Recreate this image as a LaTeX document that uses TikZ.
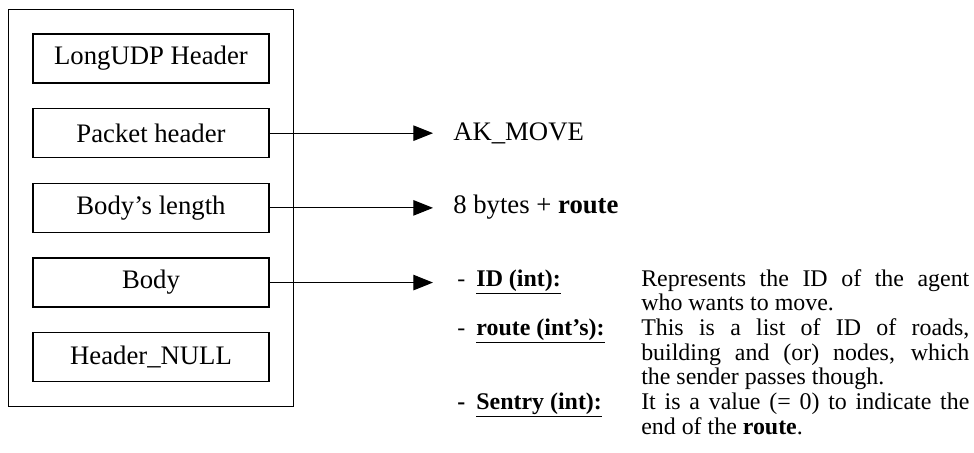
\documentclass[tikz,border=0pt]{standalone}
\usepackage{fontspec}
\setmainfont{Liberation Serif}
\usetikzlibrary{positioning,fit,arrows.meta}

\tikzset{
  field/.style={draw,line width=0.9pt,minimum width=5.9cm,minimum height=1.225cm,
    inner sep=0pt,font=\fontsize{19}{23}\selectfont},
  arr/.style={-{Triangle[length=14pt,width=11pt]},line width=0.8pt},
  val/.style={inner ysep=0pt,inner xsep=0.5cm,font=\fontsize{19}{23}\selectfont},
  item/.style={inner ysep=0pt,inner xsep=0.6cm,text height=12pt,text depth=4.5pt,
    font=\fontsize{17}{17.6}\selectfont},
  desc/.style={inner sep=0pt,text width=8.2cm,align=justify,
    font=\fontsize{17}{17.6}\selectfont}
}

\begin{document}
\begin{tikzpicture}[x=0.025cm,y=-0.025cm,node distance=0.61cm]
    \useasboundingbox (0,0) rectangle (974,453);
    % the packet
    \node[field] (hdr) at (151,58.5)  {LongUDP Header};
    \node[field] (pkt) [below=of hdr] {Packet header};
    \node[field] (len) [below=of pkt] {Body's length};
    \node[field] (body) [below=of len] {Body};
    \node[field] (nul) [below=of body] {Header\_NULL};
    \node[draw,line width=0.9pt,fit=(hdr)(nul),inner sep=0.6cm] (pack) {};
    % values
    \node[val,anchor=west] (ak) at (433,133) {AK\_MOVE};
    \node[val,anchor=west] (size) at (433,207) {8 bytes + \textbf{route}};
    % body fields
    \node[item,anchor=base west] (id) at (433,286)
      {-\hspace{0.28cm}\underline{\textbf{ID (int):}}};
    \node[item,anchor=base west] (route) at (433,335.4)
      {-\hspace{0.28cm}\underline{\textbf{route (int’s):}}};
    \node[item,anchor=base west] (sentry) at (433,409.5)
      {\textbf{-}\hspace{0.28cm}\underline{\textbf{Sentry (int):}}};
    \node[desc,anchor=base west] (idtxt) at (641,286)
      {Represents the ID of the agent\linebreak who wants to move.};
    \node[desc,anchor=base west] (routetxt) at (641,335.4)
      {This is a list of ID of roads,\linebreak building and (or) nodes, which\linebreak
       the sender passes though.};
    \node[desc,anchor=base west] (sentrytxt) at (641,409.5)
      {It is a value (= 0) to indicate the\linebreak end of the \textbf{route}.};
    \draw[arr] (pkt.east) -- (pkt.east -| ak.west);
    \draw[arr] (len.east) -- (len.east -| size.west);
    \draw[arr] (body.east) -- (body.east -| id.west);
\end{tikzpicture}
\end{document}
